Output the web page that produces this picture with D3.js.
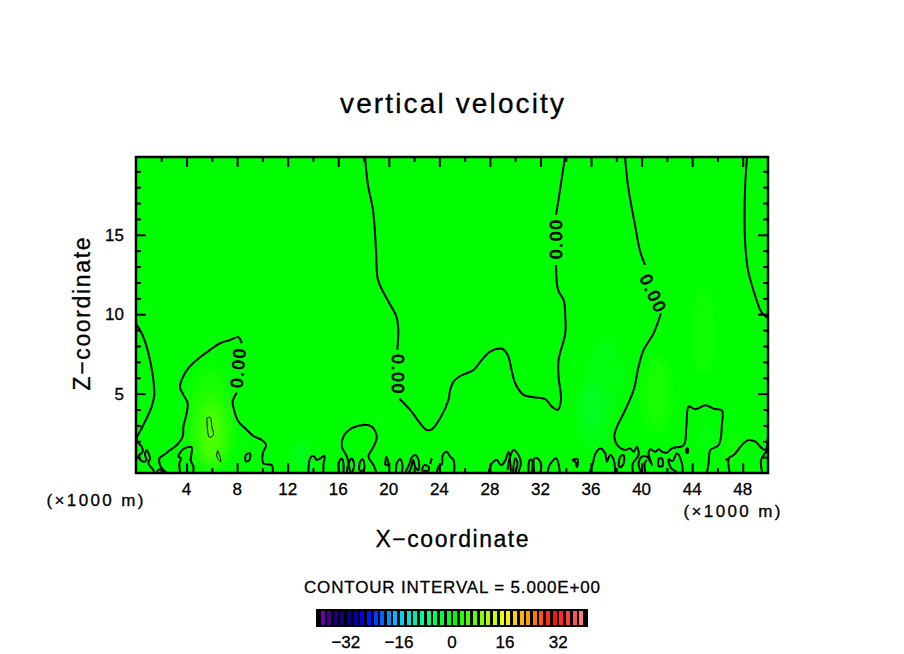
<!DOCTYPE html>
<html>
<head>
<meta charset="utf-8">
<title>vertical velocity</title>
<script src="https://cdn.jsdelivr.net/npm/d3@7"></script>
<style>
	html, body { margin: 0; padding: 0; background: #fff; }
	svg { display: block; }
	text { font-family: "Liberation Sans", sans-serif; fill: #000; stroke: #000; stroke-width: 0.3; }
	text.clabel { stroke-width: 0.9; }
</style>
</head>
<body>
<div id="viz"></div>
<script>
// axis values, in units of 1000 m
var xMajorTicks = [4, 8, 12, 16, 20, 24, 28, 32, 36, 40, 44, 48];
var xMinorTicks = [2, 6, 10, 14, 18, 22, 26, 30, 34, 38, 42, 46];
var zMajorTicks = [5, 10, 15];
var zMinorTicks = [1, 2, 3, 4, 6, 7, 8, 9, 11, 12, 13, 14, 16, 17, 18, 19];

// colour bar levels and its labelled values
var barLevels = [-40, -38, -36, -34, -32, -30, -28, -26, -24, -22, -20, -18, -16, -14, -12, -10, -8, -6, -4, -2,
	0, 2, 4, 6, 8, 10, 12, 14, 16, 18, 20, 22, 24, 26, 28, 30, 32, 34, 36, 38];
var barLabels = [-32, -16, 0, 16, 32];
var colorStops = [-40, -36, -31, -27, -17, -9, 0, 15, 22, 30, 36, 40];
var colorValues = ["#6a00a8", "#20006a", "#00008c", "#0000ff", "#00ccff", "#00ff88", "#00ff00", "#ffff00", "#ff9900", "#ff1010", "#ff5555", "#ff9c9c"];

// weak shaded anomalies of the field: [x, z, x radius, z radius, value]
var anomalies = [
	[5.9, 3.4, 2.0, 3.2, 1.4],
	[5.9, 2.8, 1.3, 2.4, 2.6],
	[6.0, 2.4, 0.7, 1.8, 5.0],
	[41.2, 5.0, 1.1, 2.4, 1.2],
	[44.9, 8.9, 0.9, 2.8, 0.9],
	[36.2, 3.6, 1.5, 2.2, -1.0],
	[37.2, 6.2, 1.5, 2.2, -0.8],
	[36.2, 4.2, 0.9, 1.6, -2.4],
	[13.2, 1.0, 0.8, 1.0, -1.8],
	[45.3, 2.2, 0.5, 0.8, -1.6],
	[47.2, 1.5, 0.5, 1.0, 1.5]
];

// zero contour pieces, [x, z]
var zeroLines = [
	[[0, 9.39], [0.45, 8.8], [0.84, 7.96], [1.16, 6.91], [1.37, 5.86], [1.45, 4.92], [1.24, 4.18], [0.84, 3.45], [0.45, 2.82], [0.05, 2.08], [0.45, 1.66], [0.53, 1.34], [0.18, 1.03], [0.58, 0.71], [0.84, 0.82], [0.71, 1.13], [0.84, 1.45], [1.11, 0.92], [0.98, 0.61], [1.37, 0.19], [1.42, 0.06]],
	[[8.36, 8.17], [8.1, 8.55], [7.44, 8.38], [6.65, 8.17], [5.86, 7.75], [5.07, 7.29], [4.14, 6.6], [3.61, 5.86], [3.48, 5.4], [3.75, 4.92], [4.09, 4.39], [4.01, 3.76], [3.75, 2.92], [3.69, 2.29], [3.09, 1.66], [2.69, 1.45], [2.3, 1.2], [1.85, 0.92], [1.9, 0.5], [2.16, 0.19], [2.4, 0.06]],
	[[7.97, 5.06], [7.65, 4.5], [7.76, 3.97], [8.1, 3.24], [8.63, 2.82], [9.29, 2.33], [9.95, 2.08], [10.29, 1.76], [10.03, 1.24], [10.08, 0.61], [10.74, 0.5], [10.82, 0.06]],
	[[3.48, 0.06], [3.43, 0.61], [3.56, 0.92], [3.35, 1.03], [3.75, 1.51], [4.4, 1.62], [4.33, 0.82], [4.54, 0.4], [4.54, 0.06]],
	[[1.64, 0.06], [1.85, 0.23], [2.11, 0.15], [2.22, 0.06]],
	[[18.12, 19.9], [18.35, 18.14], [18.75, 16.56], [18.99, 14.04], [19.15, 12.15], [19.9, 10.9], [20.6, 9.85], [20.75, 9.0], [20.67, 7.75]],
	[[20.84, 4.68], [21.69, 3.97], [22.48, 3.13], [23.0, 2.71], [23.4, 2.75], [24.06, 3.45], [24.72, 4.6], [24.85, 5.23], [25.12, 5.76], [25.65, 6.11], [26.7, 6.49], [27.36, 7.12], [28.02, 7.65], [28.95, 7.82], [29.4, 7.44], [29.74, 6.39], [30.0, 5.65], [30.66, 4.92], [31.45, 4.77], [32.38, 4.66], [32.9, 4.18], [33.35, 3.97], [33.62, 4.6], [33.43, 6.07], [33.43, 7.12], [33.96, 8.8], [33.96, 9.85], [33.83, 10.9], [33.4, 11.5], [33.23, 13.1]],
	[[33.23, 16.25], [33.54, 17.8], [33.94, 19.9]],
	[[38.69, 19.9], [38.92, 18.1], [39.48, 15.6], [39.87, 14.0], [40.27, 13.1]],
	[[41.53, 10.06], [40.95, 8.8], [40.16, 7.75], [39.76, 6.7], [39.37, 5.23], [38.58, 3.76], [38.05, 2.92], [37.84, 2.29], [38.18, 1.66], [38.71, 1.45], [39.1, 1.55], [39.37, 1.34], [39.63, 1.66], [39.76, 1.13], [39.31, 0.61], [39.31, 0.06]],
	[[48.34, 19.9], [48.18, 17.82], [48.18, 14.67], [48.42, 12.78], [48.97, 11.2], [49.5, 10.1], [50, 9.76]],
	[[39.95, 0.06], [39.76, 0.61], [40.03, 1.03], [40.42, 1.03], [40.82, 0.5], [40.55, 1.24], [40.69, 1.49], [41.08, 1.34], [41.35, 1.49], [41.61, 1.34], [42.0, 1.28], [42.4, 1.55], [43.33, 1.76], [43.54, 2.92], [43.73, 4.18], [44.25, 4.01], [45.05, 4.26], [45.71, 4.05], [46.36, 3.93], [46.36, 3.13], [46.1, 1.76], [45.44, 1.45], [45.3, 0.61], [45.18, 0.06]],
	[[40.29, 0.06], [40.24, 0.61], [40.42, 0.82]],
	[[46.96, 0.06], [46.9, 0.92], [47.28, 1.13], [48.07, 1.87], [48.47, 2.08], [49, 1.97], [49.53, 1.55], [49.8, 1.45], [50, 2.29]],
	[[46.62, 0.82], [46.9, 0.92]],
	[[49.53, 0.06], [49.45, 0.82], [49.8, 1.28], [50, 1.45]],
	[[16.94, 0.06], [16.68, 1.03], [16.28, 1.66], [16.41, 2.29], [17.07, 2.82], [18, 3.03], [18.65, 2.92], [19.05, 2.29], [18.79, 1.66], [18.39, 1.03], [18.79, 0.5], [19, 0.06]],
	[[13.64, 0.04], [13.77, 0.92], [14.04, 1.09], [14.3, 0.82], [14.57, 0.92], [14.91, 1.09], [14.83, 0.5], [14.83, 0.04]],
	[[16.1, 0], [16.02, 0.61], [16.28, 0.92], [16.41, 0.61], [16.41, 0]],
	[[16.68, 0], [16.81, 0.61], [17.07, 0.92], [17.26, 0.5], [17.07, 0]],
	[[17.65, 0.19], [17.73, 0.71], [17.94, 0.86], [18.05, 0.23], [17.78, 0.13], [17.65, 0.19]],
	[[19.71, 0.5], [19.79, 1.03], [19.97, 0.61], [19.89, 0.5], [19.71, 0.5]],
	[[20.58, 0], [20.63, 0.61], [20.9, 0.86], [21.08, 0.5], [21.03, 0]],
	[[21.29, 0], [21.63, 0.57], [21.82, 0.99], [22.08, 1.13], [22.35, 0.82], [22.35, 0.19], [22.08, 0.4], [21.95, 0.82], [21.74, 0.29], [21.55, 0]],
	[[22.61, 0.15], [22.8, 0.5], [23.14, 0.4], [23.14, 0.15], [22.61, 0.15]],
	[[23.27, 0.57], [23.4, 0.92]],
	[[23.8, 0], [23.93, 0.4], [24.2, 0.57], [24.27, 1.13], [24.59, 1.34], [24.85, 1.03], [25.12, 0.82], [25.17, 0]],
	[[27.89, 0], [28.15, 0.61], [28.55, 0.82], [28.87, 0.5], [29.21, 0.78], [29.47, 1.34], [29.66, 0.08]],
	[[29.39, 0.19], [29.6, 1.03], [29.87, 1.45], [30.26, 1.13], [30.45, 0.61], [30.26, 0.08]],
	[[29.82, 0.08], [30, 0.92], [30.18, 0.61], [30, 0.08]],
	[[31.06, 0], [31.14, 0.82], [31.32, 0.82], [31.32, 0]],
	[[31.51, 0], [31.51, 0.92], [31.77, 0.92], [32.06, 0.5], [31.98, 0]],
	[[32.56, 0], [32.72, 0.5], [33.24, 0.92], [33.51, 0.19], [33.51, 0]],
	[[34.49, 0.82], [34.93, 0.86], [34.88, 0.36], [34.75, 0.71], [34.49, 0.82]],
	[[35.88, 0], [36.15, 0.61], [36.33, 1.2], [36.73, 1.55], [37.12, 1.24], [37.25, 0.71], [37.52, 1.13], [37.78, 0.86], [37.91, 0]],
	[[38.18, 0.4], [38.31, 1.03], [38.58, 1.13], [38.58, 0.61], [38.31, 0.36], [38.18, 0.4]],
	[[41.35, 0.92], [41.61, 0.92], [41.66, 0.44], [41.35, 0.44], [41.35, 0.92]],
	[[42.8, 0.06], [42.3, 0.35], [42.14, 0.86], [42.45, 0.75], [42.8, 1.24], [43.19, 0.61], [43.25, 0.06]],
	[[43.54, 1.55], [43.65, 1.55], [43.65, 1.28], [43.54, 1.28], [43.54, 1.55]],
	[[8.76, 1.2], [9.02, 1.24], [8.97, 0.82], [8.71, 0.73], [8.65, 1.03], [8.76, 1.2]]
];

// thin closed contours around the positive core
var fiveLines = [
	[[5.6, 3.45], [5.86, 3.51], [6.0, 2.92], [6.12, 2.39], [5.8, 2.25], [5.65, 2.82], [5.6, 3.45]],
	[[6.46, 1.41], [6.65, 1.03], [6.7, 0.71], [6.54, 0.82], [6.38, 1.13], [6.46, 1.41]]
];

// contour labels: [x, z, rotation in degrees]
var zeroLabels = [
	[8.05, 6.6, -85],
	[20.75, 6.25, 90],
	[33.25, 14.7, -90],
	[40.9, 11.35, 65]
];

var width = 904, height = 654;
var plot = { left: 136, right: 768, top: 157, bottom: 473 };

var x = d3.scaleLinear().domain([0, 50]).range([plot.left, plot.right]);
var z = d3.scaleLinear().domain([0, 19.9]).range([plot.bottom, plot.top]);
var color = d3.scaleLinear().domain(colorStops).range(colorValues).clamp(true);
var barX = d3.scaleLinear().domain([-41, 41]).range([316, 588]);

var svg = d3.select("#viz").append("svg").attr("width", width).attr("height", height);
var defs = svg.append("defs");

defs.append("clipPath").attr("id", "plot-clip").append("rect")
	.attr("x", plot.left).attr("y", plot.top)
	.attr("width", plot.right - plot.left).attr("height", plot.bottom - plot.top);

defs.append("filter").attr("id", "soft")
	.attr("x", "-60%").attr("y", "-60%").attr("width", "220%").attr("height", "220%")
	.append("feGaussianBlur").attr("stdDeviation", 6);

// shaded field
var field = svg.append("g").attr("clip-path", "url(#plot-clip)");
field.append("rect")
	.attr("x", plot.left).attr("y", plot.top)
	.attr("width", plot.right - plot.left).attr("height", plot.bottom - plot.top)
	.attr("fill", color(0));

field.selectAll("ellipse").data(anomalies).enter().append("ellipse")
	.attr("cx", function (d) { return x(d[0]); })
	.attr("cy", function (d) { return z(d[1]); })
	.attr("rx", function (d) { return x(d[2]) - x(0); })
	.attr("ry", function (d) { return z(0) - z(d[3]); })
	.attr("fill", function (d) { return color(d[4]); })
	.attr("filter", "url(#soft)");

// contours
var line = d3.line()
	.curve(d3.curveCatmullRom.alpha(0.5))
	.x(function (d) { return x(d[0]); })
	.y(function (d) { return z(d[1]); });

var contours = svg.append("g").attr("clip-path", "url(#plot-clip)").attr("fill", "none").attr("stroke", "#000");
contours.selectAll("path.zero").data(zeroLines).enter().append("path")
	.attr("class", "zero").attr("d", line).attr("stroke-width", 2);
contours.selectAll("path.five").data(fiveLines).enter().append("path")
	.attr("class", "five").attr("d", line).attr("stroke-width", 1);

svg.selectAll("text.clabel").data(zeroLabels).enter().append("text")
	.attr("class", "clabel")
	.attr("transform", function (d) { return "translate(" + x(d[0]) + "," + z(d[1]) + ") rotate(" + d[2] + ")"; })
	.attr("text-anchor", "middle").attr("dy", "0.36em")
	.attr("font-size", 17).attr("textLength", 39).attr("lengthAdjust", "spacing")
	.text("0.00");

// ticks on all four sides, labels only on the bottom and left
function drawTicks(axis, values, size) {
	var g = svg.append("g").call(axis.tickValues(values).tickSize(size).tickFormat("").tickSizeOuter(0));
	g.select(".domain").remove();
	g.selectAll("line").attr("stroke", "#000").attr("stroke-width", 2);
	return g;
}

drawTicks(d3.axisBottom(x), xMajorTicks, -10).attr("transform", "translate(0," + plot.bottom + ")");
drawTicks(d3.axisBottom(x), xMinorTicks, -5).attr("transform", "translate(0," + plot.bottom + ")");
drawTicks(d3.axisTop(x), xMajorTicks, -10).attr("transform", "translate(0," + plot.top + ")");
drawTicks(d3.axisTop(x), xMinorTicks, -5).attr("transform", "translate(0," + plot.top + ")");
drawTicks(d3.axisLeft(z), zMajorTicks, -10).attr("transform", "translate(" + plot.left + ",0)");
drawTicks(d3.axisLeft(z), zMinorTicks, -5).attr("transform", "translate(" + plot.left + ",0)");
drawTicks(d3.axisRight(z), zMajorTicks, -10).attr("transform", "translate(" + plot.right + ",0)");
drawTicks(d3.axisRight(z), zMinorTicks, -5).attr("transform", "translate(" + plot.right + ",0)");

svg.append("rect")
	.attr("x", plot.left).attr("y", plot.top)
	.attr("width", plot.right - plot.left).attr("height", plot.bottom - plot.top)
	.attr("fill", "none").attr("stroke", "#000").attr("stroke-width", 2.5);

svg.selectAll("text.xlabel").data(xMajorTicks).enter().append("text")
	.attr("class", "xlabel").attr("x", function (d) { return x(d); }).attr("y", 495)
	.attr("text-anchor", "middle").attr("font-size", 17).text(function (d) { return d; });

svg.selectAll("text.zlabel").data(zMajorTicks).enter().append("text")
	.attr("class", "zlabel").attr("x", 124).attr("y", function (d) { return z(d) + 6; })
	.attr("text-anchor", "end").attr("font-size", 17).text(function (d) { return d; });

// titles and notes
function addText(s, px, py, size, len, rotate) {
	var t = svg.append("text")
		.attr("text-anchor", "middle").attr("font-size", size)
		.attr("textLength", len).attr("lengthAdjust", "spacing")
		.text(s);
	if (rotate) t.attr("transform", "translate(" + px + "," + py + ") rotate(" + rotate + ")");
	else t.attr("x", px).attr("y", py);
	return t;
}

addText("vertical velocity", 452, 113, 28, 224);
addText("X\u2212coordinate", 452, 547, 23, 153);
addText("Z\u2212coordinate", 90, 314, 23, 153, -90);
addText("(\u00d71000 m)", 95, 506, 17, 97);
addText("(\u00d71000 m)", 732, 517, 17, 97);
addText("CONTOUR INTERVAL = 5.000E+00", 452, 593, 17, 296);

// colour bar
var barTop = 609, barBottom = 627;
svg.append("rect")
	.attr("x", 316).attr("y", barTop).attr("width", 272).attr("height", barBottom - barTop)
	.attr("fill", "#000");

svg.selectAll("rect.level").data(barLevels).enter().append("rect")
	.attr("class", "level")
	.attr("x", function (d) { return Math.round(barX(d) + 1.2); })
	.attr("y", barTop + 2)
	.attr("width", 4)
	.attr("height", barBottom - barTop - 4)
	.attr("fill", function (d) { return color(d); });

svg.selectAll("text.barlabel").data(barLabels).enter().append("text")
	.attr("class", "barlabel").attr("x", function (d) { return barX(d); }).attr("y", 648)
	.attr("text-anchor", "middle").attr("font-size", 17)
	.text(function (d) { return String(d).replace("-", "\u2212"); });
</script>
</body>
</html>
